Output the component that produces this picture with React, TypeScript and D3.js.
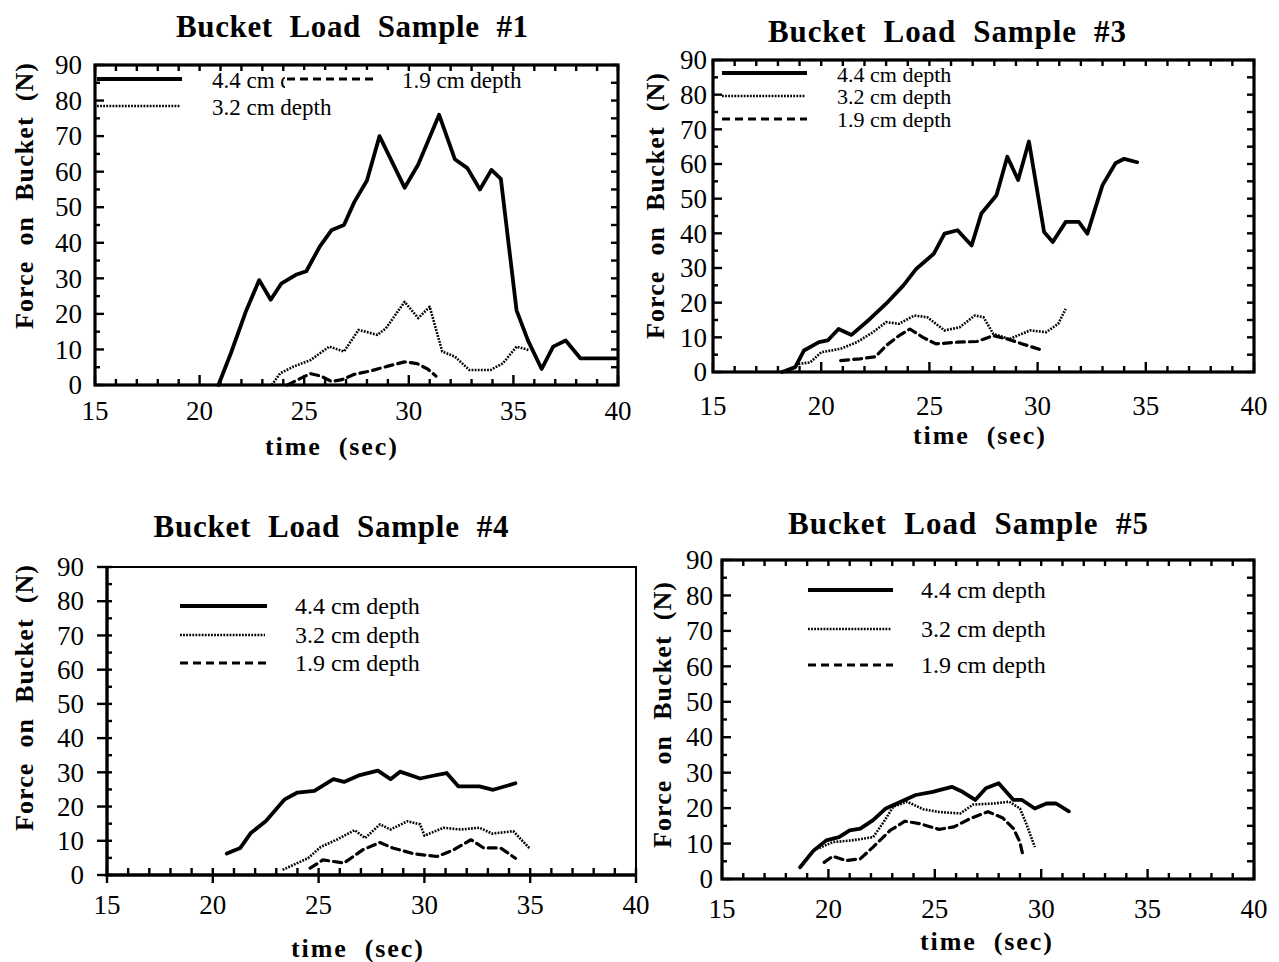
import React from "react";
import * as d3 from "d3";

type Pt = [number, number];

// ---- axis tick values ----
const xTickValues = [15, 20, 25, 30, 35, 40];
const yTickValues = [0, 10, 20, 30, 40, 50, 60, 70, 80, 90];
const depthLabels = ["4.4 cm depth", "3.2 cm depth", "1.9 cm depth"];
const panelTitles = [
  "Bucket  Load  Sample  #1",
  "Bucket  Load  Sample  #3",
  "Bucket  Load  Sample  #4",
  "Bucket  Load  Sample  #5",
];

// ---- Sample #1 : [time (s), force (N)] ----
const s1Depth44: Pt[] = [[20.9, 0], [21.5, 9], [22.2, 20.5], [22.85, 29.5], [23.4, 24], [23.9, 28.5], [24.6, 31], [25.1, 32], [25.75, 39], [26.3, 43.5], [26.9, 45], [27.4, 51.5], [28.0, 57.5], [28.6, 70], [29.8, 55.5], [30.45, 62], [31.45, 76], [32.2, 63.5], [32.8, 61], [33.4, 55], [33.95, 60.5], [34.4, 58], [35.15, 21], [35.7, 12.5], [36.35, 4.5], [36.9, 10.8], [37.5, 12.5], [38.2, 7.5], [39.9, 7.5]];
const s1Depth32: Pt[] = [[23.45, 0], [23.85, 3.3], [24.5, 5.2], [25.3, 7], [26.2, 10.8], [26.9, 9.4], [27.6, 15.5], [28.5, 14.1], [28.9, 15.9], [29.8, 23.4], [30.45, 18.8], [31.0, 22], [31.6, 9.4], [32.2, 8], [32.9, 4.2], [33.9, 4.2], [34.5, 6.1], [35.15, 10.8], [35.75, 9.8]];
const s1Depth19: Pt[] = [[24.2, 0], [24.8, 1.8], [25.3, 3.2], [25.8, 2.5], [26.3, 1], [26.8, 1.5], [27.4, 3], [28.2, 4], [29.0, 5.3], [29.8, 6.5], [30.4, 6], [30.9, 4.5], [31.3, 2.5]];

// ---- Sample #3 ----
const s3Depth44: Pt[] = [[18.2, 0], [18.8, 1.4], [19.2, 6.2], [19.9, 8.6], [20.3, 9.1], [20.8, 12.4], [21.4, 10.7], [22.25, 15.3], [23.0, 19.7], [23.8, 25], [24.4, 29.8], [25.2, 34.1], [25.7, 39.9], [26.3, 40.9], [26.95, 36.5], [27.4, 45.7], [28.1, 51], [28.6, 62.1], [29.1, 55.4], [29.6, 66.5], [30.3, 40.4], [30.7, 37.5], [31.3, 43.3], [31.9, 43.3], [32.3, 39.9], [33.0, 53.9], [33.6, 60.2], [34.0, 61.5], [34.6, 60.5]];
const s3Depth32: Pt[] = [[18.95, 2.3], [19.5, 2.8], [20.0, 5.7], [20.9, 6.7], [21.65, 8.6], [22.4, 11.5], [23.0, 14.4], [23.6, 13.9], [24.3, 16.3], [24.9, 15.8], [25.7, 12], [26.4, 12.9], [27.1, 16.3], [27.5, 15.8], [27.95, 11], [28.7, 9.5], [29.65, 12], [30.4, 11.5], [30.95, 13.9], [31.3, 18.2]];
const s3Depth19: Pt[] = [[20.9, 3.3], [21.8, 3.8], [22.5, 4.4], [23.0, 7.6], [23.6, 10.5], [24.1, 12.4], [24.7, 10], [25.3, 8.1], [26.3, 8.6], [27.2, 8.8], [27.95, 10.5], [28.6, 9.5], [29.3, 8.1], [30.25, 6.2]];

// ---- Sample #4 ----
const s4Depth44: Pt[] = [[20.66, 6.3], [21.3, 7.9], [21.8, 12.3], [22.5, 15.7], [23.4, 22.1], [24.0, 24.1], [24.8, 24.6], [25.7, 28], [26.2, 27.2], [26.95, 29.2], [27.8, 30.5], [28.4, 28], [28.85, 30.2], [29.8, 28.2], [30.4, 29], [31.05, 29.8], [31.6, 25.9], [32.6, 25.9], [33.25, 24.9], [34.3, 26.8]];
const s4Depth32: Pt[] = [[23.3, 1.5], [24.0, 3.5], [24.5, 4.9], [25.1, 8.2], [25.85, 10.3], [26.7, 13.1], [27.2, 10.8], [27.9, 14.8], [28.4, 13.3], [29.2, 15.7], [29.8, 14.8], [30.0, 11.5], [30.9, 13.8], [31.7, 13.3], [32.6, 13.8], [33.2, 12.1], [34.2, 12.8], [35.0, 7.6]];
const s4Depth19: Pt[] = [[24.6, 2], [25.2, 4.4], [26.2, 3.5], [27.1, 7.4], [27.9, 9.5], [28.5, 7.9], [29.5, 6.2], [30.6, 5.4], [31.4, 7.4], [32.2, 10.3], [32.8, 7.9], [33.6, 7.9], [34.3, 4.9]];

// ---- Sample #5 ----
const s5Depth44: Pt[] = [[18.67, 3.3], [19.3, 8], [19.9, 10.9], [20.5, 11.8], [21.0, 13.7], [21.5, 14.2], [22.1, 16.6], [22.7, 19.9], [23.4, 21.8], [24.1, 23.7], [24.9, 24.6], [25.8, 26], [26.3, 24.6], [26.9, 22.3], [27.4, 25.6], [28.0, 27], [28.7, 22.3], [29.1, 22.3], [29.7, 19.9], [30.25, 21.3], [30.7, 21.3], [31.3, 19.1]];
const s5Depth32: Pt[] = [[19.3, 8], [20.2, 10.4], [21.1, 10.9], [22.1, 11.8], [22.6, 16.1], [23.05, 20.4], [23.7, 21.8], [24.45, 19.7], [25.2, 18.9], [26.2, 18.5], [26.8, 21], [27.75, 21.3], [28.5, 21.8], [29.0, 19.9], [29.3, 15.6], [29.7, 9]];
const s5Depth19: Pt[] = [[19.8, 4.7], [20.2, 6.4], [20.85, 5.2], [21.5, 5.7], [22.1, 9], [22.9, 13.7], [23.6, 16.3], [24.3, 15.6], [25.2, 14], [25.9, 14.7], [26.65, 17], [27.5, 19], [28.2, 17.2], [28.7, 14.2], [29.0, 10.4], [29.15, 6.4]];

const FONT = "'Liberation Serif', 'Times New Roman', Times, serif";

type LineKind = "solid" | "dotted" | "dashed";
const LINE_STYLE: Record<LineKind, { w: number; dash?: string }> = {
  solid: { w: 3.8 },
  dotted: { w: 2.6, dash: "1.8 1.3" },
  dashed: { w: 3.2, dash: "8 5" },
};

interface LegendItem { kind: LineKind; label: string; x1: number; x2: number; y: number; tx: number; ty: number; mask?: boolean }

interface PanelCfg {
  title: string;
  left: number; top: number; right: number; bottom: number;
  titleX: number; titleY: number; titleLen: number;
  xTitleX: number; xTitleY: number;
  yTitleX: number; yTitleY: number;
  yLabelX: number; xLabelY: number;
  legendFont: number;
  boxed: boolean; // ticks on all four sides
  series: { kind: LineKind; data: Pt[] }[];
  legend: LegendItem[];
}

const panels: PanelCfg[] = [
  {
    title: panelTitles[0],
    left: 95, top: 65, right: 618, bottom: 385,
    titleX: 352, titleY: 37, titleLen: 352,
    xTitleX: 331, xTitleY: 455,
    yTitleX: 33, yTitleY: 196,
    yLabelX: 82, xLabelY: 420,
    legendFont: 23,
    boxed: true,
    series: [
      { kind: "solid", data: s1Depth44 },
      { kind: "dotted", data: s1Depth32 },
      { kind: "dashed", data: s1Depth19 },
    ],
    legend: [
      { kind: "solid", label: depthLabels[0], x1: 97, x2: 182, y: 79, tx: 212, ty: 88 },
      { kind: "dotted", label: depthLabels[1], x1: 97, x2: 180, y: 106, tx: 212, ty: 115 },
      { kind: "dashed", label: depthLabels[2], x1: 287, x2: 373, y: 79, tx: 402, ty: 88, mask: true },
    ],
  },
  {
    title: panelTitles[1],
    left: 713, top: 60, right: 1254, bottom: 372,
    titleX: 947, titleY: 42, titleLen: 358,
    xTitleX: 979, xTitleY: 444,
    yTitleX: 664, yTitleY: 206,
    yLabelX: 707, xLabelY: 415,
    legendFont: 22,
    boxed: true,
    series: [
      { kind: "solid", data: s3Depth44 },
      { kind: "dotted", data: s3Depth32 },
      { kind: "dashed", data: s3Depth19 },
    ],
    legend: [
      { kind: "solid", label: depthLabels[0], x1: 722, x2: 807, y: 73, tx: 837, ty: 82 },
      { kind: "dotted", label: depthLabels[1], x1: 722, x2: 805, y: 96, tx: 837, ty: 104 },
      { kind: "dashed", label: depthLabels[2], x1: 722, x2: 807, y: 119, tx: 837, ty: 127 },
    ],
  },
  {
    title: panelTitles[2],
    left: 107, top: 567, right: 636, bottom: 875,
    titleX: 331, titleY: 537, titleLen: 355,
    xTitleX: 357, xTitleY: 957,
    yTitleX: 33, yTitleY: 698,
    yLabelX: 84, xLabelY: 914,
    legendFont: 24,
    boxed: false,
    series: [
      { kind: "solid", data: s4Depth44 },
      { kind: "dotted", data: s4Depth32 },
      { kind: "dashed", data: s4Depth19 },
    ],
    legend: [
      { kind: "solid", label: depthLabels[0], x1: 180, x2: 267, y: 606, tx: 295, ty: 614 },
      { kind: "dotted", label: depthLabels[1], x1: 180, x2: 265, y: 635, tx: 295, ty: 643 },
      { kind: "dashed", label: depthLabels[2], x1: 180, x2: 267, y: 663, tx: 295, ty: 671 },
    ],
  },
  {
    title: panelTitles[3],
    left: 722, top: 560, right: 1254, bottom: 879,
    titleX: 968, titleY: 534, titleLen: 360,
    xTitleX: 986, xTitleY: 950,
    yTitleX: 671, yTitleY: 715,
    yLabelX: 713, xLabelY: 918,
    legendFont: 24,
    boxed: true,
    series: [
      { kind: "solid", data: s5Depth44 },
      { kind: "dotted", data: s5Depth32 },
      { kind: "dashed", data: s5Depth19 },
    ],
    legend: [
      { kind: "solid", label: depthLabels[0], x1: 808, x2: 893, y: 590, tx: 921, ty: 598 },
      { kind: "dotted", label: depthLabels[1], x1: 808, x2: 891, y: 629, tx: 921, ty: 637 },
      { kind: "dashed", label: depthLabels[2], x1: 808, x2: 893, y: 665, tx: 921, ty: 673 },
    ],
  },
];

function Panel({ cfg }: { cfg: PanelCfg }) {
  const x = d3.scaleLinear().domain([15, 40]).range([cfg.left, cfg.right]);
  const y = d3.scaleLinear().domain([0, 90]).range([cfg.bottom, cfg.top]);
  const line = d3.line<Pt>().x((d) => x(d[0])).y((d) => y(d[1]));

  const xMinor = d3.range(15, 40.01, 1);
  const yMinor = d3.range(0, 90.01, 5);

  const ticks: JSX.Element[] = [];
  xMinor.forEach((t, i) => {
    const major = t % 5 === 0;
    const px = x(t);
    if (cfg.boxed) {
      const len = major ? 10 : 6;
      ticks.push(<line key={`xb${i}`} x1={px} x2={px} y1={cfg.bottom} y2={cfg.bottom - len} />);
      ticks.push(<line key={`xt${i}`} x1={px} x2={px} y1={cfg.top} y2={cfg.top + 6} />);
    } else {
      ticks.push(<line key={`xb${i}`} x1={px} x2={px} y1={cfg.bottom + (major ? 8 : 0)} y2={cfg.bottom - 7} />);
    }
  });
  yMinor.forEach((v, i) => {
    const major = v % 10 === 0;
    const py = y(v);
    if (cfg.boxed) {
      ticks.push(<line key={`yl${i}`} x1={cfg.left} x2={cfg.left + (major ? 9 : 5)} y1={py} y2={py} />);
      ticks.push(<line key={`yr${i}`} x1={cfg.right} x2={cfg.right - 7} y1={py} y2={py} />);
    } else {
      ticks.push(<line key={`yl${i}`} x1={cfg.left - (major ? 10 : 0)} x2={cfg.left + 5} y1={py} y2={py} />);
    }
  });

  return (
    <g>
      <text x={cfg.titleX} y={cfg.titleY} textAnchor="middle" fontFamily={FONT} fontWeight="bold" fontSize={31}
        textLength={cfg.titleLen} lengthAdjust="spacing" xmlSpace="preserve">{cfg.title}</text>

      {/* frame */}
      {cfg.boxed ? (
        <rect x={cfg.left} y={cfg.top} width={cfg.right - cfg.left} height={cfg.bottom - cfg.top}
          fill="none" stroke="#000" strokeWidth={3.2} />
      ) : (
        <g>
          <path d={`M${cfg.left},${cfg.top}H${cfg.right}V${cfg.bottom}`} fill="none" stroke="#000" strokeWidth={2} />
          <path d={`M${cfg.left},${cfg.top - 1}V${cfg.bottom}H${cfg.right + 1}`} fill="none" stroke="#000" strokeWidth={3.4} />
        </g>
      )}
      <g stroke="#000" strokeWidth={2.4}>{ticks}</g>

      {/* tick labels */}
      <g fontFamily={FONT} fontSize={27} fill="#000">
        {yTickValues.map((v) => (
          <text key={`yl${v}`} x={cfg.yLabelX} y={y(v)} dy="0.34em" textAnchor="end">{v}</text>
        ))}
        {xTickValues.map((t) => (
          <text key={`xl${t}`} x={x(t)} y={cfg.xLabelY} textAnchor="middle">{t}</text>
        ))}
      </g>

      {/* axis titles */}
      <text x={cfg.xTitleX} y={cfg.xTitleY} textAnchor="middle" fontFamily={FONT} fontWeight="bold" fontSize={26}
        xmlSpace="preserve" textLength={132} lengthAdjust="spacing">{"time  (sec)"}</text>
      <text transform={`translate(${cfg.yTitleX},${cfg.yTitleY}) rotate(-90)`} textAnchor="middle" fontFamily={FONT}
        fontWeight="bold" fontSize={26} xmlSpace="preserve" textLength={266} lengthAdjust="spacing">{"Force  on  Bucket  (N)"}</text>

      {/* data */}
      {cfg.series.map((s, i) => (
        <path key={`s${i}`} d={line(s.data) ?? ""} fill="none" stroke="#000" strokeWidth={LINE_STYLE[s.kind].w}
          strokeDasharray={LINE_STYLE[s.kind].dash} strokeLinejoin="round" strokeLinecap={s.kind === "dotted" ? "butt" : "round"} />
      ))}

      {/* legend; a masked sample blanks out whatever text lies beneath it */}
      {cfg.legend.map((it, i) => (
        <g key={`lg${i}`}>
          {it.mask && <rect x={it.x1 - 2} y={it.y - 9} width={it.x2 - it.x1 + 20} height={24} fill="#fff" />}
          <line x1={it.x1} x2={it.x2} y1={it.y} y2={it.y} stroke="#000" strokeWidth={LINE_STYLE[it.kind].w}
            strokeDasharray={LINE_STYLE[it.kind].dash} />
          <text x={it.tx} y={it.ty} fontFamily={FONT} fontSize={cfg.legendFont}>{it.label}</text>
        </g>
      ))}
    </g>
  );
}

export default function App() {
  return (
    <svg width={1279} height={962} viewBox="0 0 1279 962"
      style={{ display: "block", position: "absolute", left: 0, top: 0, background: "#fff" }}>
      <rect x={0} y={0} width={1279} height={962} fill="#fff" />
      {panels.map((p, i) => (
        <Panel key={i} cfg={p} />
      ))}
    </svg>
  );
}
